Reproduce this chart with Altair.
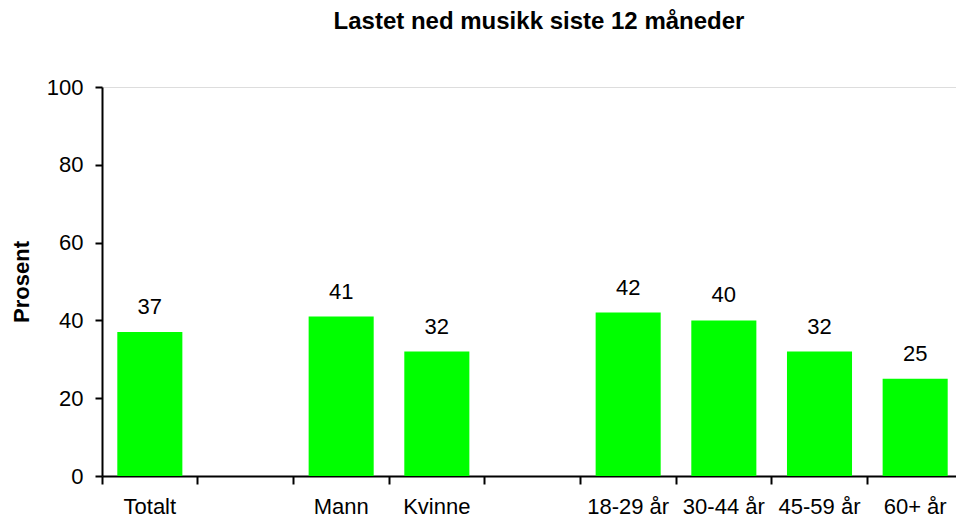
import altair as alt
import pandas as pd

# Category slots along the x axis; the blank slots separate the groups
slots = ["Totalt", " ", "Mann", "Kvinne", "  ", "18-29 år", "30-44 år", "45-59 år", "60+ år"]
categories = ["Totalt", "Mann", "Kvinne", "18-29 år", "30-44 år", "45-59 år", "60+ år"]
values = [37, 41, 32, 42, 40, 32, 25]

df = pd.DataFrame({"kategori": categories, "prosent": values})

FONT = "Liberation Sans"
GREEN = "#00FF00"

x_enc = alt.X(
    "kategori:N",
    scale=alt.Scale(domain=slots, range=[0, 861], paddingInner=0, paddingOuter=0),
    axis=alt.Axis(
        title=None,
        labelAngle=0,
        labelFont=FONT,
        labelFontSize=22,
        labelColor="black",
        labelPadding=12,
        tickSize=8,
        tickColor="black",
        tickWidth=2,
        domainColor="black",
        domainWidth=2,
        bandPosition=0,
        labelBound=False,
        labelOverlap=False,
        grid=False,
    ),
)

y_enc = alt.Y(
    "prosent:Q",
    scale=alt.Scale(domain=[0, 100], nice=False),
    axis=alt.Axis(
        title="Prosent",
        titleFont=FONT,
        titleFontSize=22,
        titleFontWeight="bold",
        titleColor="black",
        titlePadding=13,
        values=[0, 20, 40, 60, 80, 100],
        labelFont=FONT,
        labelFontSize=22,
        labelColor="black",
        labelPadding=12,
        tickSize=7,
        tickColor="black",
        tickWidth=2,
        domainColor="black",
        domainWidth=2,
        grid=False,
    ),
)

bars = alt.Chart(df).mark_bar(
    color=GREEN, width=alt.RelativeBandSize(0.68)
).encode(x=x_enc, y=y_enc)

labels = alt.Chart(df).mark_text(
    font=FONT, fontSize=22, color="black", baseline="alphabetic", dy=-18
).encode(x=alt.X("kategori:N", scale=alt.Scale(domain=slots)), y="prosent:Q", text="prosent:Q")

chart = (
    alt.layer(bars, labels)
    .properties(
        width=854,
        height=389,
        padding={"left": 102, "top": 87, "right": 0, "bottom": 43},
        autosize=alt.AutoSizeParams(type="none"),
        title=alt.TitleParams(
            "Lastet ned musikk siste 12 måneder",
            font=FONT,
            fontSize=24,
            fontWeight="bold",
            color="black",
            anchor="middle",
            dx=10,
            offset=42,
        ),
    )
    .configure_view(stroke=None)
    .configure(background="white")
)

chart.save("out.html", embed_options={"renderer": "svg", "actions": False})
